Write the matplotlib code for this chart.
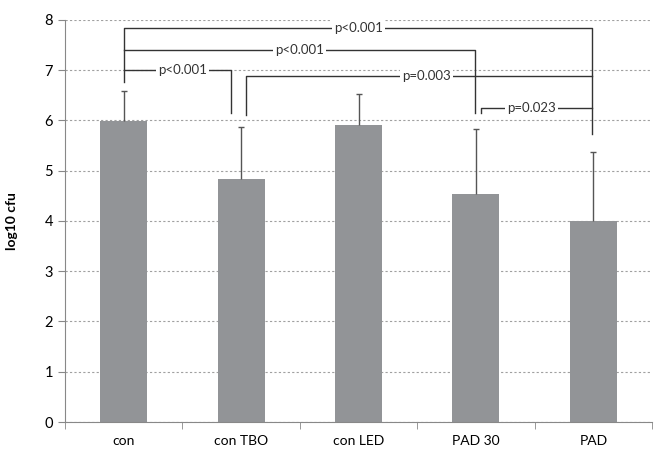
import matplotlib.pyplot as plt
import numpy as np

groups = ['con', 'con TBO', 'con LED', 'PAD 30', 'PAD']
means = [5.98, 4.83, 5.92, 4.53, 3.99]
sd_upper = [0.61, 1.04, 0.61, 1.30, 1.38]

# brackets: (x_left, x_right, y_bar, y_left_end, y_right_end, label, label_x)
brackets = [
    (0.0, 3.99, 7.85, 6.77, 5.73, 'p<0.001', 2.0),
    (0.0, 2.99, 7.41, 7.41, 6.14, 'p<0.001', 1.5),
    (0.0, 0.91, 7.00, 7.00, 6.15, 'p<0.001', 0.5),
    (1.04, 3.99, 6.89, 6.11, 6.89, 'p=0.003', 2.58),
    (3.04, 3.99, 6.25, 6.14, 6.25, 'p=0.023', 3.47),
]

plt.rcParams['font.family'] = ['Lato', 'DejaVu Sans']

fig = plt.figure(figsize=(6.54, 4.51), dpi=100)
ax = fig.add_axes([0.0994, 0.0643, 0.8976, 0.8914])

x = np.arange(len(groups))
tops = np.array(means) + np.array(sd_upper)
ax.bar(x, means, width=0.4, color='#929497', zorder=2)
ax.vlines(x, means, tops, color='#555555', lw=1.0, zorder=3)
ax.plot(x, tops, ls='none', marker='_', ms=4, mew=1.0, color='#555555', zorder=3)

for xl, xr, yb, yl, yr, lab, lx in brackets:
    ax.plot([xl, xl, xr, xr], [yl, yb, yb, yr], color='#333333', lw=1.0, zorder=4)
    ax.text(lx, yb, lab, ha='center', va='center', fontsize=9.5, color='#333333',
            bbox=dict(facecolor='white', edgecolor='none', pad=1.5), zorder=5)

ax.set_xlim(-0.5, 4.5)
ax.set_ylim(0, 8)
ax.set_yticks(range(0, 9))
ax.set_xticks(x)
ax.set_xticklabels(groups, fontsize=10)
ax.set_xticks(np.arange(-0.5, 5, 1), minor=True)
ax.tick_params(axis='x', which='major', length=0, pad=9)
ax.tick_params(axis='x', which='minor', length=5, color='#888888')
ax.tick_params(axis='y', length=5, color='#888888', labelsize=10.5)
ax.set_ylabel('log10 cfu', fontsize=10, fontweight='bold')
ax.yaxis.set_label_coords(-0.08, 0.5)

ax.yaxis.grid(True, linestyle=(0, (2, 2)), color='#a0a0a0', lw=0.8, zorder=0)
ax.set_axisbelow(True)
for s in ['top', 'right']:
    ax.spines[s].set_visible(False)
for s in ['left', 'bottom']:
    ax.spines[s].set_color('#888888')

fig.savefig('out.png', dpi=100)
